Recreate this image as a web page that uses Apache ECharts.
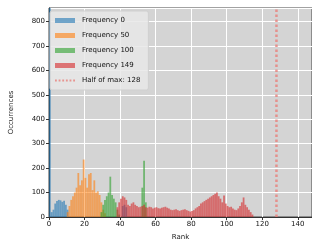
<!DOCTYPE html>
<html><head><meta charset="utf-8">
<script src="https://cdn.jsdelivr.net/npm/echarts@6/dist/echarts.min.js"></script>
<style>html,body{margin:0;padding:0;background:#fff}#c{width:312px;height:248px}</style>
</head><body><div id="c"></div>
<script>
// rank -> occurrences
const freq0 = [[0,900],[1,20],[2,30],[3,55],[4,65],[5,70],[6,68],[7,62],[8,66],[9,50],[10,30],[41,45],[42,50],[43,40]];
const freq50 = [[10,20],[11,45],[12,70],[13,85],[14,100],[15,120],[16,180],[17,130],[18,150],[19,235],[20,160],[21,120],[22,175],[23,180],[24,110],[25,150],[26,100],[27,105],[28,90],[29,60],[30,30],[31,15]];
const freq100 = [[29,20],[30,50],[31,70],[32,85],[33,100],[34,165],[35,90],[36,75],[37,60],[38,30],[39,10],[52,120],[53,230],[54,60]];
const freq149Start = 38;
const freq149 = [40,60,75,85,80,70,50,45,55,60,50,45,40,42,45,50,40,38,42,40,35,38,40,36,35,38,40,42,38,35,30,28,30,32,28,25,28,30,32,28,25,22,25,28,35,40,45,55,60,65,70,75,80,85,90,95,100,85,75,60,88,55,45,40,42,35,30,28,35,45,60,80,50,40,30,20,10];
const halfMax = 128;
const xTicks = [0,20,40,60,80,100,120,140];
const yMax = 855;

const red = freq149.map((v,i)=>[freq149Start+i, v]);

function renderBar(params, api){
  const x = api.value(0), y = api.value(1);
  const p0 = api.coord([x, y]);
  const p1 = api.coord([x+1, 0]);
  return {type:'rect', shape:{x:p0[0], y:p0[1], width:p1[0]-p0[0], height:p1[1]-p0[1]}, style: api.style()};
}
function hist(name, data, color){
  return {type:'custom', name, data, renderItem: renderBar, clip:true, encode:{x:0,y:1},
    itemStyle:{color, opacity:0.6}};
}
const dottedIcon = 'path://M0,0h2v2h-2z M4,0h2v2h-2z M8,0h2v2h-2z M12,0h2v2h-2z M16,0h2v2h-2z M20,0h2v2h-2z';
const chart = echarts.init(document.getElementById('c'));
chart.setOption({
  animation:false,
  textStyle:{fontFamily:'DejaVu Sans'},
  grid:{left:46, right:0, top:8, bottom:31, show:true, backgroundColor:'#d4d4d4', borderColor:'#444', borderWidth:1},
  xAxis:{type:'value', min:0, max:148, interval:20, name:'Rank', nameLocation:'middle', nameGap:17,
    nameTextStyle:{fontSize:7, color:'#222'},
    axisLine:{show:true, onZero:false, lineStyle:{color:'#333'}},
    axisTick:{show:true, length:3, lineStyle:{color:'#333'}},
    axisLabel:{fontSize:7, color:'#111', margin:4, showMaxLabel:false, formatter:v=>xTicks.includes(v)?String(v):''},
    splitLine:{show:true, lineStyle:{color:'#fff', width:1}}},
  yAxis:{type:'value', min:0, max:yMax, interval:100, name:'Occurrences', nameLocation:'middle', nameGap:34,
    nameTextStyle:{fontSize:7, color:'#222'},
    axisLine:{show:true, lineStyle:{color:'#333'}},
    axisTick:{show:true, length:3, lineStyle:{color:'#333'}},
    axisLabel:{fontSize:7, color:'#111', margin:4, showMaxLabel:false},
    splitLine:{show:true, lineStyle:{color:'#fff', width:1}}},
  legend:{orient:'vertical', left:50, top:11, itemWidth:20, itemHeight:5, itemGap:8,
    backgroundColor:'rgba(232,232,232,0.85)', borderColor:'#cfcfcf', borderWidth:1, borderRadius:2, padding:[6,8,6,5],
    textStyle:{fontSize:7, color:'#111', padding:[0,0,0,2]},
    data:[{name:'Frequency 0',icon:'rect'},{name:'Frequency 50',icon:'rect'},{name:'Frequency 100',icon:'rect'},{name:'Frequency 149',icon:'rect'},{name:'Half of max: 128',icon:dottedIcon}]},
  series:[
    hist('Frequency 0', freq0, '#1f77b4'),
    hist('Frequency 50', freq50, '#ff7f0e'),
    hist('Frequency 100', freq100, '#2ca02c'),
    hist('Frequency 149', red, '#d62728'),
    {type:'line', name:'Half of max: 128', data:[[halfMax,0],[halfMax,yMax]], symbol:'none', showSymbol:false,
      lineStyle:{color:'#e8807a', width:2.5, type:'dotted', opacity:0.8}, itemStyle:{color:'#e8807a', opacity:0.8}}
  ]
});
</script></body></html>
